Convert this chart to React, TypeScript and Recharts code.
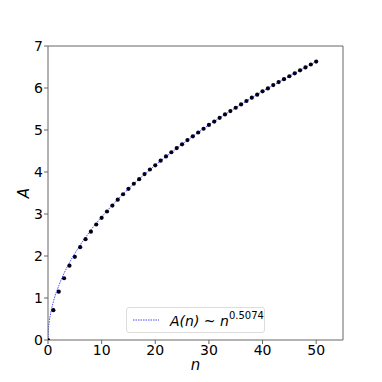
import {
  ComposedChart,
  Line,
  Scatter,
  XAxis,
  YAxis,
  Legend,
  ReferenceLine,
} from 'recharts';

// measured points A(n), n = 0..50
const N_VALUES = [
  0, 1, 2, 3, 4, 5, 6, 7, 8, 9, 10, 11, 12, 13, 14, 15, 16, 17, 18, 19, 20, 21, 22, 23, 24, 25,
  26, 27, 28, 29, 30, 31, 32, 33, 34, 35, 36, 37, 38, 39, 40, 41, 42, 43, 44, 45, 46, 47, 48, 49, 50,
];
const A_VALUES = [
  0, 0.71, 1.15, 1.47, 1.77, 1.98, 2.21, 2.4, 2.58, 2.75, 2.91, 3.06, 3.2, 3.34, 3.47, 3.6, 3.72,
  3.83, 3.95, 4.06, 4.16, 4.27, 4.37, 4.47, 4.57, 4.66, 4.76, 4.85, 4.94, 5.03, 5.12, 5.2, 5.29,
  5.37, 5.45, 5.53, 5.61, 5.69, 5.77, 5.84, 5.92, 5.99, 6.07, 6.14, 6.21, 6.28, 6.35, 6.42, 6.49,
  6.56, 6.63,
];

// fitted curve A(n) ~ n^0.5074
const FIT_N = [0, 0.1, 0.25, 0.5, 1, 2, 3, 4, 5, 6, 7, 8, 10, 12, 15, 20, 25, 30, 35, 40, 45, 50];
const FIT_A = [
  0, 0.28, 0.45, 0.64, 0.91, 1.29, 1.59, 1.84, 2.06, 2.26, 2.44, 2.62, 2.93, 3.21, 3.6, 4.16, 4.66,
  5.12, 5.53, 5.92, 6.28, 6.63,
];

const X_TICKS = [0, 10, 20, 30, 40, 50];
const Y_TICKS = [0, 1, 2, 3, 4, 5, 6, 7];

const dots = N_VALUES.map((n, i) => ({ n, A: A_VALUES[i] }));
const fit = FIT_N.map((n, i) => ({ n, A: FIT_A[i] }));

const FONT = '"DejaVu Sans", sans-serif';
const SPINE = '#666';
const LINE_BLUE = '#4a4aff';

function FitLegend() {
  return (
    <div
      style={{
        width: 139,
        height: 26,
        boxSizing: 'border-box',
        border: '1px solid #ddd',
        borderRadius: 3,
        background: '#fff',
        display: 'flex',
        alignItems: 'center',
        fontFamily: FONT,
        fontSize: 14,
        color: '#000',
      }}
    >
      <svg width={38} height={10} style={{ marginLeft: 5, flexShrink: 0 }}>
        <line x1={1} y1={5} x2={27} y2={5} stroke={LINE_BLUE} strokeWidth={1} strokeDasharray="1.5 1" />
      </svg>
      <span style={{ fontStyle: 'italic', whiteSpace: 'nowrap' }}>
        A(n)<span style={{ fontStyle: 'normal' }}> ~ </span>n
        <sup style={{ fontStyle: 'normal', fontSize: 10, position: 'relative', top: -1 }}>0.5074</sup>
      </span>
    </div>
  );
}

export default function App() {
  return (
    <div style={{ position: 'absolute', left: 0, top: 0, width: 382, height: 382, background: '#fff' }}>
      <ComposedChart width={382} height={382} margin={{ top: 46, right: 39, left: 18, bottom: 12 }}>
        <XAxis
          type="number"
          dataKey="n"
          domain={[0, 55]}
          ticks={X_TICKS}
          allowDataOverflow
          height={30}
          stroke={SPINE}
          tickSize={4}
          tickMargin={1}
          tick={{ fill: '#000', fontSize: 14, fontFamily: FONT }}
          label={{
            value: 'n',
            position: 'insideBottom',
            offset: 0,
            style: { fill: '#000', fontSize: 15, fontStyle: 'italic', fontFamily: FONT },
          }}
        />
        <YAxis
          type="number"
          dataKey="A"
          domain={[0, 7]}
          ticks={Y_TICKS}
          allowDataOverflow
          width={30}
          stroke={SPINE}
          tickSize={4}
          tickMargin={1}
          tick={{ fill: '#000', fontSize: 14, fontFamily: FONT }}
          label={{
            value: 'A',
            angle: -90,
            position: 'insideLeft',
            offset: 6,
            style: { fill: '#000', fontSize: 15, fontStyle: 'italic', fontFamily: FONT, textAnchor: 'middle' },
          }}
        />
        <ReferenceLine y={7} stroke={SPINE} ifOverflow="extendDomain" />
        <ReferenceLine x={55} stroke={SPINE} ifOverflow="extendDomain" />
        <Line
          data={fit}
          dataKey="A"
          type="monotone"
          stroke={LINE_BLUE}
          strokeWidth={1}
          strokeDasharray="1.5 1"
          dot={false}
          activeDot={false}
          isAnimationActive={false}
          name="fit"
        />
        <Scatter
          data={dots}
          dataKey="A"
          fill="#000"
          isAnimationActive={false}
          shape={(p: { cx?: number; cy?: number }) => <circle cx={p.cx} cy={p.cy} r={2.1} fill="#000018" />}
        />
        <Legend
          layout="vertical"
          align="center"
          verticalAlign="middle"
          wrapperStyle={{ left: 126, top: 307, width: 139 }}
          content={() => <FitLegend />}
        />
      </ComposedChart>
    </div>
  );
}
